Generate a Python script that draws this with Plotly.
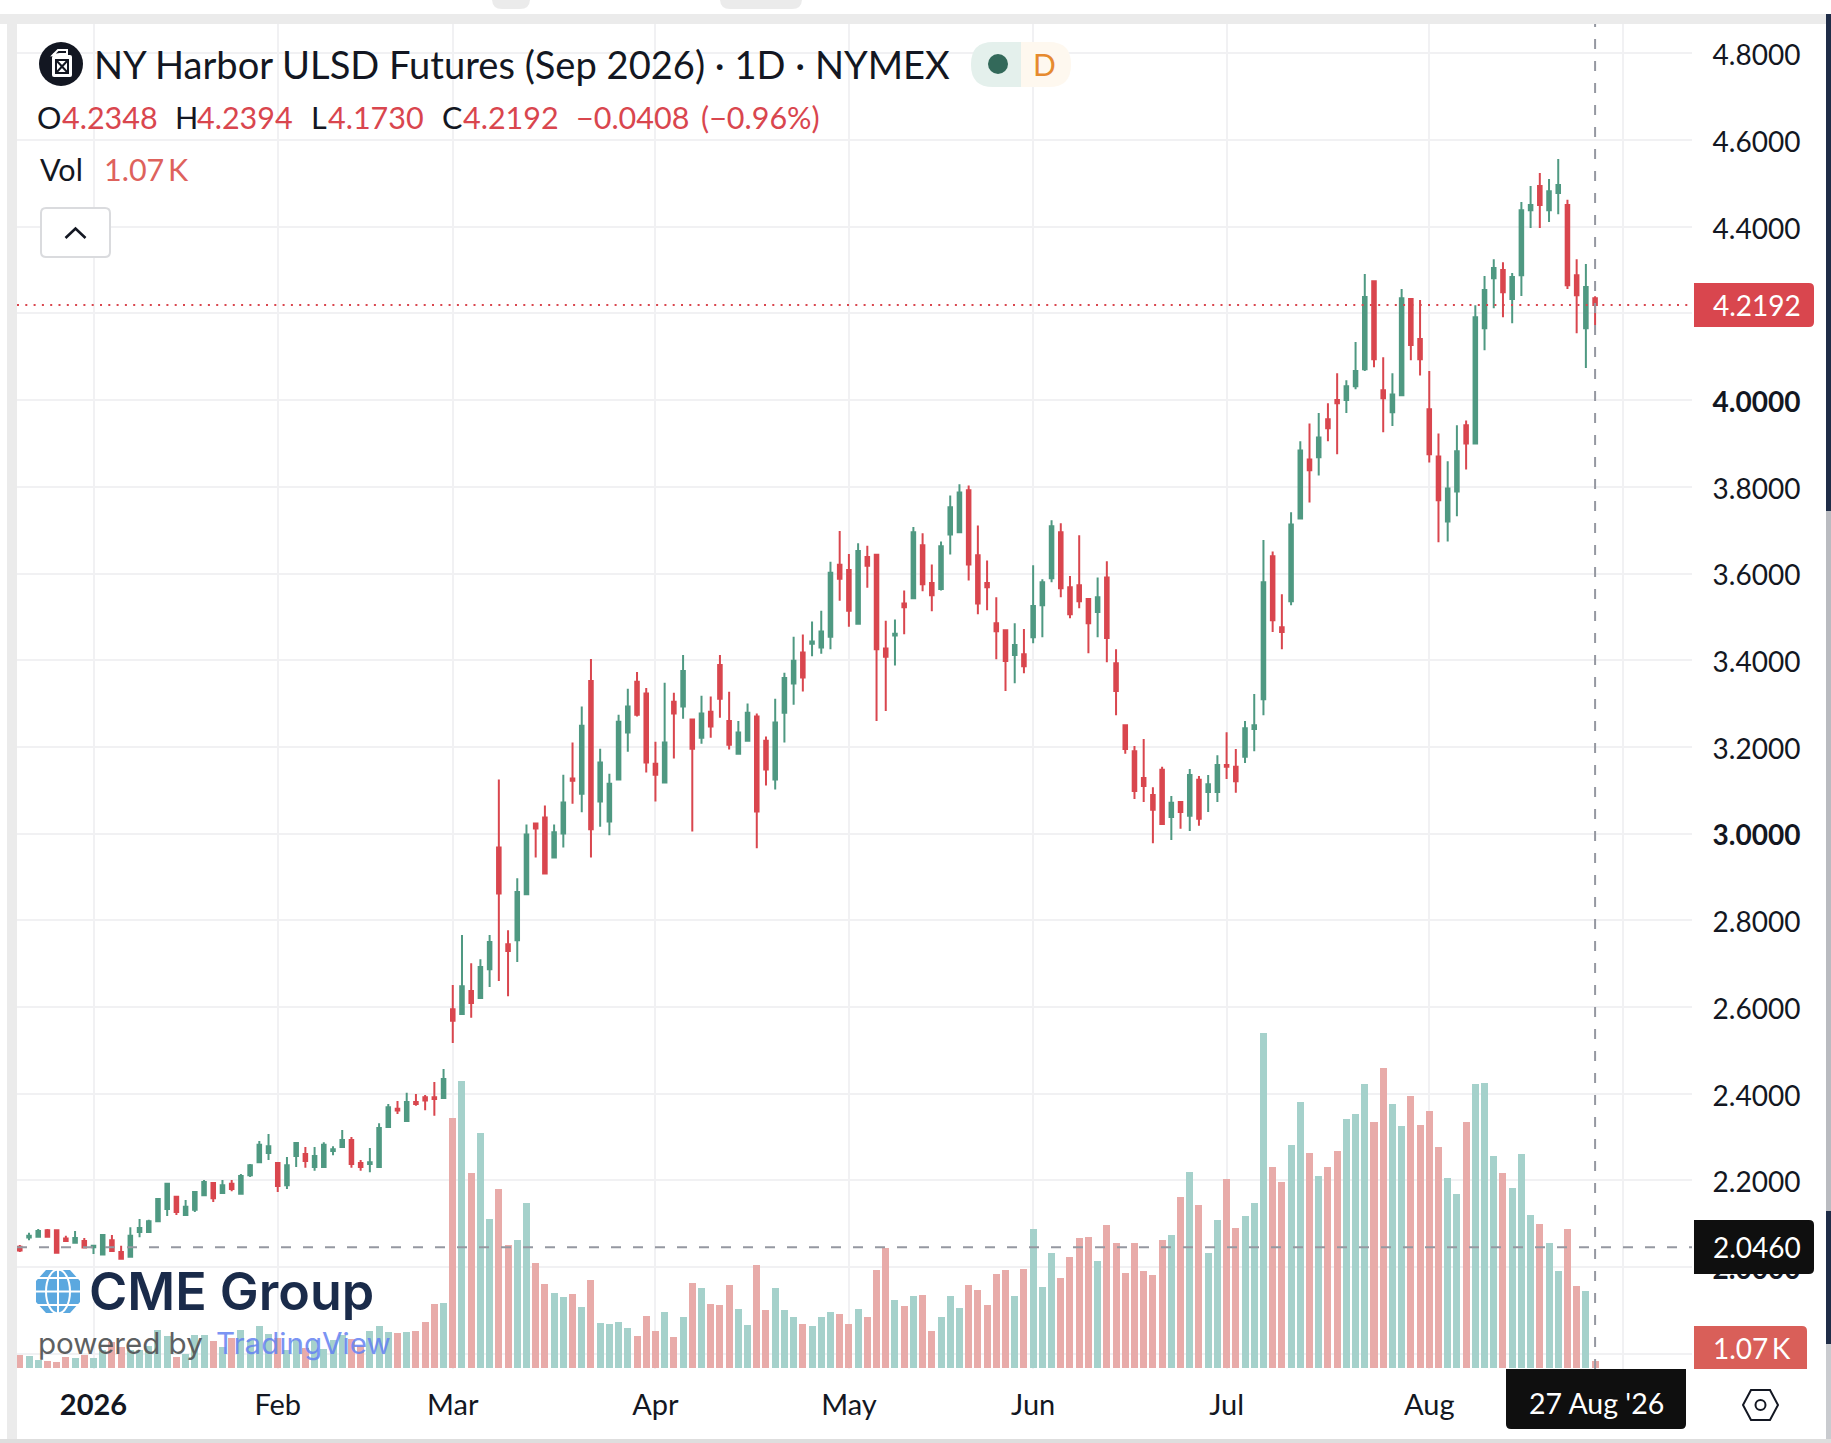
# NY Harbor ULSD Futures daily candles + volume, TradingView look
import plotly.graph_objects as go

W, H = 1831, 1443
L, R, T, B = 17, 1692, 24, 1369
FONT = "Lato"
INK = "#131722"
GREEN = "#4F9982"
RED = "#D9464E"

opens = [
    2.047, 2.068, 2.070, 2.085, 2.085, 2.066, 2.056, 2.060, 2.046, 2.029,
    2.062, 2.035, 2.024, 2.081, 2.081, 2.106, 2.134, 2.162, 2.120, 2.132,
    2.166, 2.194, 2.171, 2.192, 2.169, 2.212, 2.242, 2.263, 2.240, 2.189,
    2.256, 2.261, 2.231, 2.231, 2.268, 2.277, 2.293, 2.240, 2.238, 2.231,
    2.323, 2.365, 2.337, 2.381, 2.392, 2.392, 2.390, 2.595, 2.584, 2.637,
    2.621, 2.687, 2.968, 2.745, 2.754, 2.860, 3.023, 3.037, 2.945, 3.000,
    3.127, 3.092, 3.352, 3.074, 3.028, 3.125, 3.233, 3.350, 3.323, 3.161,
    3.118, 3.304, 3.293, 3.263, 3.221, 3.281, 3.389, 3.260, 3.184, 3.214,
    3.270, 3.214, 3.125, 3.279, 3.346, 3.418, 3.438, 3.429, 3.454, 3.620,
    3.608, 3.484, 3.638, 3.643, 3.427, 3.457, 3.531, 3.543, 3.665, 3.578,
    3.564, 3.690, 3.695, 3.792, 3.642, 3.578, 3.485, 3.469, 3.412, 3.414,
    3.453, 3.527, 3.589, 3.695, 3.568, 3.573, 3.541, 3.511, 3.591, 3.393,
    3.250, 3.190, 3.128, 3.089, 3.147, 3.038, 3.073, 3.041, 3.124, 3.096,
    3.096, 3.158, 3.154, 3.177, 3.241, 3.310, 3.640, 3.476, 3.536, 3.727,
    3.863, 3.868, 3.956, 4.000, 4.000, 4.032, 4.071, 4.274, 4.023, 3.972,
    4.011, 4.233, 4.141, 3.979, 3.870, 3.720, 3.789, 3.942, 3.900, 4.166,
    4.281, 4.300, 4.233, 4.288, 4.438, 4.494, 4.438, 4.478, 4.450, 4.288,
    4.166, 4.2348,
]
highs = [
    2.051, 2.079, 2.088, 2.088, 2.085, 2.072, 2.083, 2.067, 2.049, 2.074,
    2.074, 2.049, 2.092, 2.111, 2.109, 2.159, 2.194, 2.162, 2.155, 2.175,
    2.201, 2.196, 2.201, 2.201, 2.215, 2.238, 2.291, 2.307, 2.240, 2.254,
    2.286, 2.277, 2.277, 2.288, 2.279, 2.316, 2.300, 2.247, 2.275, 2.332,
    2.376, 2.383, 2.402, 2.399, 2.397, 2.427, 2.457, 2.651, 2.766, 2.701,
    2.710, 2.766, 3.125, 2.777, 2.897, 3.021, 3.023, 3.065, 3.021, 3.136,
    3.210, 3.293, 3.403, 3.196, 3.138, 3.274, 3.334, 3.373, 3.336, 3.212,
    3.348, 3.325, 3.412, 3.263, 3.318, 3.316, 3.412, 3.327, 3.260, 3.300,
    3.277, 3.224, 3.311, 3.371, 3.454, 3.459, 3.489, 3.514, 3.627, 3.698,
    3.645, 3.670, 3.664, 3.643, 3.491, 3.494, 3.561, 3.707, 3.693, 3.621,
    3.674, 3.780, 3.806, 3.803, 3.711, 3.630, 3.545, 3.469, 3.485, 3.472,
    3.619, 3.587, 3.723, 3.716, 3.594, 3.688, 3.541, 3.591, 3.628, 3.425,
    3.250, 3.202, 3.218, 3.107, 3.154, 3.087, 3.075, 3.149, 3.133, 3.135,
    3.181, 3.234, 3.195, 3.260, 3.322, 3.677, 3.651, 3.552, 3.741, 3.905,
    3.946, 3.970, 3.993, 4.062, 4.046, 4.134, 4.291, 4.274, 4.099, 4.062,
    4.256, 4.233, 4.231, 4.067, 3.923, 3.859, 3.942, 3.953, 4.219, 4.286,
    4.325, 4.318, 4.293, 4.457, 4.494, 4.524, 4.510, 4.556, 4.462, 4.325,
    4.314, 4.2394,
]
lows = [
    2.035, 2.062, 2.070, 2.070, 2.033, 2.058, 2.056, 2.045, 2.030, 2.029,
    2.035, 2.019, 2.024, 2.069, 2.079, 2.106, 2.118, 2.120, 2.120, 2.127,
    2.164, 2.150, 2.169, 2.175, 2.169, 2.208, 2.242, 2.247, 2.173, 2.180,
    2.231, 2.229, 2.222, 2.229, 2.258, 2.275, 2.229, 2.222, 2.219, 2.231,
    2.321, 2.353, 2.337, 2.372, 2.362, 2.349, 2.390, 2.517, 2.584, 2.575,
    2.621, 2.646, 2.660, 2.625, 2.704, 2.860, 2.945, 2.908, 2.945, 2.968,
    3.069, 3.049, 2.945, 3.016, 2.996, 3.125, 3.189, 3.270, 3.141, 3.074,
    3.118, 3.173, 3.265, 3.005, 3.207, 3.221, 3.267, 3.194, 3.184, 3.214,
    2.966, 3.111, 3.102, 3.210, 3.297, 3.328, 3.409, 3.415, 3.425, 3.537,
    3.477, 3.484, 3.567, 3.260, 3.283, 3.388, 3.460, 3.543, 3.559, 3.513,
    3.561, 3.644, 3.693, 3.584, 3.506, 3.515, 3.402, 3.329, 3.347, 3.370,
    3.439, 3.453, 3.580, 3.545, 3.497, 3.520, 3.416, 3.453, 3.395, 3.273,
    3.184, 3.080, 3.073, 2.978, 3.020, 2.985, 3.011, 3.006, 3.018, 3.050,
    3.073, 3.126, 3.094, 3.163, 3.190, 3.273, 3.465, 3.425, 3.527, 3.727,
    3.764, 3.826, 3.905, 3.875, 3.970, 4.025, 4.067, 4.076, 3.926, 3.940,
    4.011, 4.092, 4.057, 3.856, 3.672, 3.674, 3.732, 3.840, 3.900, 4.115,
    4.212, 4.191, 4.177, 4.240, 4.397, 4.397, 4.411, 4.429, 4.256, 4.154,
    4.074, 4.1730,
]
closes = [
    2.038, 2.072, 2.083, 2.070, 2.033, 2.060, 2.067, 2.045, 2.049, 2.074,
    2.037, 2.019, 2.072, 2.090, 2.106, 2.157, 2.192, 2.127, 2.139, 2.173,
    2.196, 2.159, 2.189, 2.180, 2.210, 2.235, 2.282, 2.279, 2.187, 2.235,
    2.286, 2.245, 2.256, 2.282, 2.272, 2.293, 2.238, 2.231, 2.242, 2.321,
    2.369, 2.361, 2.381, 2.376, 2.384, 2.388, 2.434, 2.568, 2.648, 2.609,
    2.692, 2.750, 2.862, 2.729, 2.865, 2.998, 3.012, 2.908, 3.003, 3.072,
    3.122, 3.249, 3.010, 3.164, 3.115, 3.258, 3.293, 3.274, 3.164, 3.136,
    3.210, 3.277, 3.375, 3.196, 3.277, 3.247, 3.311, 3.205, 3.233, 3.279,
    3.051, 3.148, 3.256, 3.359, 3.399, 3.360, 3.443, 3.466, 3.602, 3.588,
    3.514, 3.652, 3.618, 3.425, 3.408, 3.461, 3.522, 3.695, 3.575, 3.550,
    3.663, 3.753, 3.787, 3.621, 3.531, 3.568, 3.467, 3.398, 3.435, 3.386,
    3.525, 3.580, 3.709, 3.566, 3.506, 3.536, 3.485, 3.545, 3.451, 3.329,
    3.195, 3.098, 3.110, 3.055, 3.022, 3.071, 3.050, 3.135, 3.034, 3.114,
    3.158, 3.154, 3.121, 3.243, 3.250, 3.580, 3.492, 3.465, 3.713, 3.884,
    3.838, 3.914, 3.935, 3.993, 4.032, 4.067, 4.238, 4.094, 4.004, 4.013,
    4.235, 4.127, 4.094, 3.875, 3.769, 3.796, 3.882, 3.900, 4.191, 4.254,
    4.305, 4.249, 4.284, 4.438, 4.450, 4.450, 4.482, 4.496, 4.265, 4.242,
    4.261, 4.2192,
]
# volume in thousands of contracts
volumes = [
    1.99, 1.83, 1.22, 1.07, 0.92, 1.68, 1.53, 1.99, 1.53, 2.75,
    3.97, 3.21, 2.75, 2.75, 3.36, 5.81, 4.89, 1.68, 2.14, 5.04,
    5.04, 4.13, 3.21, 4.59, 5.81, 4.28, 6.42, 5.20, 4.59, 2.75,
    4.28, 3.06, 4.28, 2.90, 4.28, 5.04, 4.43, 3.36, 5.66, 6.42,
    5.50, 5.35, 5.50, 5.66, 7.03, 9.78, 9.94, 38.2, 43.9, 29.8,
    35.9, 22.8, 27.4, 18.8, 19.6, 25.2, 16.0, 12.8, 11.5, 10.9,
    11.3, 9.32, 13.5, 6.88, 6.73, 7.03, 6.11, 4.89, 7.95, 5.66,
    8.56, 4.74, 7.80, 13.0, 12.2, 9.78, 9.63, 12.7, 9.02, 6.57,
    15.7, 8.87, 12.2, 8.87, 7.80, 6.73, 6.42, 7.80, 8.56, 8.25,
    6.73, 9.02, 7.80, 15.0, 18.3, 10.4, 9.48, 11.0, 11.2, 5.66,
    7.80, 11.0, 9.17, 12.7, 11.9, 9.63, 14.4, 15.0, 11.0, 15.1,
    21.2, 12.4, 17.6, 13.8, 17.0, 19.9, 20.0, 16.4, 21.9, 19.1,
    14.5, 19.1, 14.8, 14.2, 19.6, 20.3, 26.1, 30.0, 24.9, 17.6,
    22.6, 28.9, 21.4, 23.2, 25.2, 51.2, 30.7, 28.4, 34.1, 40.7,
    32.9, 29.3, 30.7, 33.2, 38.1, 38.8, 43.4, 37.6, 45.9, 40.4,
    37.0, 41.6, 37.1, 39.3, 33.8, 29.0, 26.6, 37.6, 43.4, 43.6,
    32.4, 29.8, 27.5, 32.7, 23.4, 22.0, 19.1, 14.8, 21.2, 12.5,
    11.8, 1.07,
]

date_ticks = [8, 28, 47, 69, 90, 110, 131, 153, 174]
date_labels = ["<b>2026</b>", "Feb", "Mar", "Apr", "May", "Jun", "Jul", "Aug", ""]
price_ticks = [1.8, 2.0, 2.2, 2.4, 2.6, 2.8, 3.0, 3.2, 3.4, 3.6, 3.8, 4.0, 4.2, 4.4, 4.6, 4.8]
# 1.8 and 4.2 sit fully behind the scale labels, so they carry no text
price_labels = ["", "<b>2.0000</b>", "2.2000", "2.4000", "2.6000", "2.8000", "<b>3.0000</b>",
                "3.2000", "3.4000", "3.6000", "3.8000", "<b>4.0000</b>", "", "4.4000", "4.6000", "4.8000"]
last_price = 4.2192
cross_price = 2.0460
cross_index = 171


def fx(x):
    return (x - L) / (R - L)


def fy(y):
    return 1 - (y - T) / (B - T)


def path_of(points, close=True):
    d = "M" + " L".join(f"{fx(x):.5f},{fy(y):.5f}" for x, y in points)
    return d + (" Z" if close else "")


shapes = []


def add_path(d, fill=None, stroke=None, width=0, layer="above"):
    shapes.append(dict(type="path", xref="paper", yref="paper", path=d, layer=layer,
                       fillcolor=fill if fill else "rgba(0,0,0,0)",
                       line=dict(color=stroke if stroke else "rgba(0,0,0,0)", width=width)))


def add_rect(x0, y0, x1, y1, fill, layer="above"):
    add_path(path_of([(x0, y0), (x1, y0), (x1, y1), (x0, y1)]), fill=fill, layer=layer)


def round_rect(x0, y0, x1, y1, r=(5, 5, 5, 5)):
    # r = top left, top right, bottom right, bottom left, pixels
    def p(x, y):
        return f"{fx(x):.5f},{fy(y):.5f}"
    tl, tr, br, bl = r
    return (f"M{p(x0 + tl, y0)} L{p(x1 - tr, y0)} Q{p(x1, y0)} {p(x1, y0 + tr)} "
            f"L{p(x1, y1 - br)} Q{p(x1, y1)} {p(x1 - br, y1)} L{p(x0 + bl, y1)} "
            f"Q{p(x0, y1)} {p(x0, y1 - bl)} L{p(x0, y0 + tl)} Q{p(x0, y0)} {p(x0 + tl, y0)} Z")


def add_circle(cx, cy, rx, ry, fill=None, stroke=None, width=0):
    shapes.append(dict(type="circle", xref="paper", yref="paper", layer="above",
                       x0=fx(cx - rx), x1=fx(cx + rx), y0=fy(cy + ry), y1=fy(cy - ry),
                       fillcolor=fill if fill else "rgba(0,0,0,0)",
                       line=dict(color=stroke if stroke else "rgba(0,0,0,0)", width=width)))


annotations = []


def add_text(x, y, text, size, color=INK, anchor="left", family=FONT, weight=None, opacity=1):
    font = dict(family=family, size=size, color=color)
    if weight:
        font["weight"] = weight
    annotations.append(dict(xref="paper", yref="paper", x=fx(x), y=fy(y), text=text, showarrow=False,
                            xanchor=anchor, yanchor="middle", font=font, borderpad=0, opacity=opacity))


# window chrome round the chart card
add_rect(0, 14, W, 24, "#EBEBEB")
add_rect(7, 24, 17, 1439, "#EBEBEB")
add_rect(0, 1439, W, H, "#DEDEDE")
add_path(round_rect(492, -6, 530, 9, (0, 0, 10, 10)), fill="#EBEBEB")
add_path(round_rect(720, -6, 802, 9, (0, 0, 10, 10)), fill="#EBEBEB")
add_rect(1826, 14, W, 511, "#1F2D48")
add_rect(1826, 511, W, 1211, "#B9BBC0")
add_rect(1826, 1211, W, 1344, "#1F2D48")
add_rect(1826, 1344, W, 1439, "#C9CBCF")

# crosshair and last price line
shapes.append(dict(type="line", xref="paper", yref="y2", x0=0, x1=1, y0=last_price, y1=last_price,
                   layer="above", line=dict(color=RED, width=2, dash="2px,6.3px")))
shapes.append(dict(type="line", xref="paper", yref="y2", x0=0, x1=1, y0=cross_price, y1=cross_price,
                   layer="above", line=dict(color="#9598A1", width=2, dash="10px,12px")))
shapes.append(dict(type="line", xref="x", yref="paper", x0=cross_index, x1=cross_index, y0=0, y1=1,
                   layer="above", line=dict(color="#9598A1", width=2, dash="10px,12px")))

# price scale labels
add_path(round_rect(1694, 283, 1814, 327, (0, 5, 5, 0)), fill=RED)
add_text(1757, 305, "4.2192", 28, "#FFFFFF", "center")
add_path(round_rect(1694, 1220, 1814, 1274, (0, 5, 5, 0)), fill="#0F0F0F")
add_text(1757, 1247, "2.0460", 28, "#FFFFFF", "center")
add_path(round_rect(1694, 1326, 1807, 1369, (0, 5, 0, 0)), fill="#D95F59")
add_text(1752, 1348, "1.07\u2009K", 28, "#FFFFFF", "center")

# time scale crosshair label and settings hexagon
add_path(round_rect(1506, 1369, 1686, 1429, (0, 0, 5, 5)), fill="#0F0F0F")
add_text(1596, 1403, "27 Aug '26", 28.5, "#FFFFFF", "center")
add_path(path_of([(1743, 1405), (1751, 1390), (1770, 1390), (1778, 1405), (1770, 1420), (1751, 1420)]),
         stroke=INK, width=2)
add_circle(1760.5, 1405, 5, 5, stroke=INK, width=2)

# symbol icon: jerry can on a black disc
add_circle(61, 64, 22, 22, fill=INK)
add_path(round_rect(52, 55, 72, 77, (3, 2, 2, 2)), fill="#FFFFFF")
add_path(path_of([(53, 55), (58, 50), (67, 50), (67, 54), (60, 54)]), stroke="#FFFFFF", width=2)
add_path(path_of([(56, 60), (68, 60), (68, 73), (56, 73)]), stroke=INK, width=2)
add_path(path_of([(56, 60), (68, 73)], close=False), stroke=INK, width=2)
add_path(path_of([(68, 60), (56, 73)], close=False), stroke=INK, width=2)

# header text
add_text(93, 64, "NY Harbor ULSD Futures (Sep 2026) · 1D · NYMEX", 38.1)
legend_y = 117
for x, label in [(36, "O"), (174, "H"), (310, "L"), (441, "C")]:
    add_text(x, legend_y, label, 30.5)
for x, value in [(61, "4.2348"), (196, "4.2394"), (327, "4.1730"), (462, "4.2192"),
                 (575, "−0.0408"), (700, "(−0.96%)")]:
    add_text(x, legend_y, value, 30.5, RED)
add_text(39, 169, "Vol", 30.5)
add_text(103, 169, "1.07\u2009K", 30.5, "#DE625C")

# collapse button
add_path(round_rect(41, 208, 110, 257, (5, 5, 5, 5)), fill="#FFFFFF", stroke="#DADBDE", width=2)
add_path(path_of([(65.5, 238), (75.5, 228.5), (85.5, 238)], close=False), stroke=INK, width=2.6)

# status pill
add_path(round_rect(971, 42, 1021, 87, (22, 0, 0, 22)), fill="#E4F0EC")
add_path(round_rect(1021, 42, 1071, 87, (0, 22, 22, 0)), fill="#FEF8EF")
add_circle(998, 64, 10, 10, fill="#33695A")
add_text(1044, 64, "D", 30, "#E68A2E", "center")

# CME Group logo
add_path(path_of([(46, 1270), (70, 1270), (80, 1281), (80, 1302), (70, 1313), (46, 1313), (36, 1302), (36, 1281)]),
         fill="#5BA8DF")
add_circle(58, 1291.5, 12, 22, stroke="#FFFFFF", width=2)
for gy in (1278, 1291.5, 1305):
    add_path(path_of([(36, gy), (80, gy)], close=False), stroke="#FFFFFF", width=2)
add_path(path_of([(58, 1270), (58, 1313)], close=False), stroke="#FFFFFF", width=2)
add_text(88, 1291, "CME Group", 52, "#1A2B4A", family="Inter", weight=600)
add_text(37, 1343, "powered by", 29.6, "#555759", family="Inter", opacity=0.95)
add_text(215, 1343, "TradingView", 29.6, "#6482F2", family="Inter", opacity=0.85)

xs = list(range(len(closes)))
bar_colors = ["#A5D1CB" if c >= o else "#E8ABA9" for o, c in zip(opens, closes)]

fig = go.Figure()
fig.add_trace(go.Bar(x=xs, y=volumes, marker=dict(color=bar_colors, line_width=0), width=0.76,
                     yaxis="y", hoverinfo="skip"))
fig.add_trace(go.Candlestick(x=xs, open=opens, high=highs, low=lows, close=closes, yaxis="y2",
                             whiskerwidth=0,
                             increasing=dict(line=dict(color=GREEN, width=2), fillcolor=GREEN),
                             decreasing=dict(line=dict(color=RED, width=2), fillcolor=RED),
                             hoverinfo="skip"))

fig.update_layout(
    width=W, height=H, autosize=False,
    margin=dict(l=L, r=W - R, t=T, b=H - B, pad=0),
    paper_bgcolor="#FFFFFF", plot_bgcolor="#FFFFFF",
    showlegend=False, hovermode=False, boxgap=0.45, bargap=0,
    xaxis=dict(range=[-0.304, 181.52], rangeslider=dict(visible=False), tickmode="array",
               tickvals=date_ticks, ticktext=date_labels, showgrid=True, gridcolor="#F1F1F3", gridwidth=2,
               zeroline=False, showline=False, ticks="outside", ticklen=10, tickcolor="rgba(0,0,0,0)",
               tickfont=dict(family=FONT, size=29, color=INK)),
    yaxis=dict(range=[-0.15, 205.45], visible=False, fixedrange=True),
    yaxis2=dict(range=[1.7649, 4.8676], overlaying="y", side="right", tickmode="array",
                tickvals=price_ticks, ticktext=price_labels, showgrid=True, gridcolor="#F1F1F3", gridwidth=2,
                zeroline=False, showline=False, ticks="outside", ticklen=14, tickcolor="rgba(0,0,0,0)",
                ticklabelshift=2, tickfont=dict(family=FONT, size=28, color=INK)),
    shapes=shapes, annotations=annotations,
)

fig.write_html("out.html", config=dict(displayModeBar=False),
               post_script="document.body.style.margin='0';document.body.style.overflow='hidden';")
